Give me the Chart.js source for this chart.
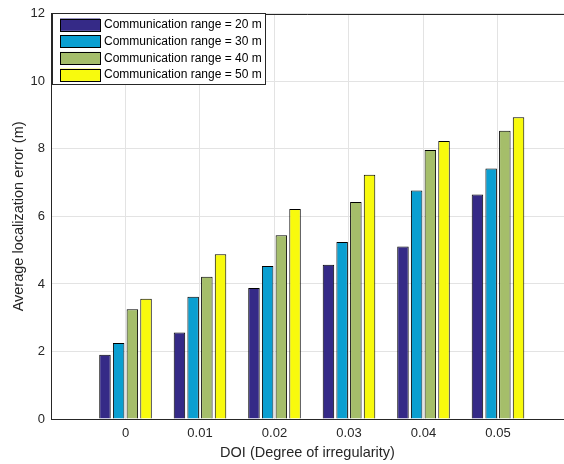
<!DOCTYPE html>
<html>
<head>
<meta charset="utf-8">
<script src="https://cdn.jsdelivr.net/npm/chart.js@4"></script>
<style>
html,body{margin:0;padding:0;background:#fff;}
#wrap{width:564px;height:464px;position:relative;}
</style>
</head>
<body>
<div id="wrap"><canvas id="c" width="564" height="464"></canvas></div>
<script>
const categories = ['0', '0.01', '0.02', '0.03', '0.04', '0.05'];
const seriesLabels = ['Communication range = 20 m', 'Communication range = 30 m', 'Communication range = 40 m', 'Communication range = 50 m'];
const range20 = [1.90, 2.56, 3.88, 4.57, 5.11, 6.65];
const range30 = [2.25, 3.62, 4.53, 5.24, 6.77, 7.42];
const range40 = [3.25, 4.21, 5.44, 6.43, 7.97, 8.54];
const range50 = [3.56, 4.88, 6.22, 7.23, 8.23, 8.94];
const yTicks = [0, 2, 4, 6, 8, 10, 12];
const colors = ['#352a87', '#0a9fd1', '#a5be6a', '#f8fa0d'];

const FONT = "'Liberation Sans', Arial, Helvetica, sans-serif";
const AX = '#262626';

const seriesValues = [range20, range30, range40, range50];
const datasets = seriesValues.map((vals, k) => ({
  label: seriesLabels[k],
  data: vals.map((v, i) => ({x: i, y: v})),
  backgroundColor: colors[k],
  borderColor: '#000',
  borderWidth: 1,
  borderSkipped: 'start',
  categoryPercentage: 0.735,
  barPercentage: 0.84
}));

const boxPlugin = {
  id: 'boxPlugin',
  afterDraw(chart) {
    const {ctx, chartArea: a} = chart;
    ctx.save();
    ctx.strokeStyle = AX;
    ctx.lineWidth = 1;
    ctx.beginPath();
    ctx.moveTo(Math.round(a.left) + 0.5, Math.round(a.top) + 0.5);
    ctx.lineTo(chart.width, Math.round(a.top) + 0.5);
    ctx.stroke();
    // legend box
    const lx = 52, ly = 13, lw = 213, lh = 71;
    ctx.fillStyle = '#fff';
    ctx.fillRect(lx, ly, lw, lh);
    ctx.strokeStyle = AX;
    ctx.strokeRect(lx + 0.5, ly + 0.5, lw, lh);
    ctx.font = '12px ' + FONT;
    ctx.textBaseline = 'middle';
    ctx.textAlign = 'left';
    chart.data.datasets.forEach((ds, k) => {
      const y = 18.5 + k * 16.7;
      ctx.fillStyle = ds.backgroundColor;
      ctx.fillRect(60, y, 40, 12.3);
      ctx.strokeStyle = '#000';
      ctx.strokeRect(60.5, Math.round(y) + 0.5, 40, 12);
      ctx.fillStyle = '#000';
      ctx.fillText(ds.label, 104, y + 6.5);
    });
    ctx.restore();
  }
};

new Chart(document.getElementById('c'), {
  type: 'bar',
  data: {datasets},
  options: {
    responsive: false,
    animation: false,
    devicePixelRatio: 1,
    layout: {padding: {left: 0, right: 0, top: 12, bottom: 0}},
    plugins: {legend: {display: false}, tooltip: {enabled: false}},
    scales: {
      x: {
        type: 'linear',
        min: -1,
        max: 5.886,
        offset: false,
        afterBuildTicks(scale) { scale.ticks = categories.map((c, i) => ({value: i})); },
        afterFit(scale) { scale.height = 45; },
        ticks: {
          autoSkip: false,
          maxRotation: 0,
          color: AX,
          font: {family: FONT, size: 13},
          padding: 7,
          callback: (v) => categories[v]
        },
        grid: {color: '#e3e3e3', offset: false, drawTicks: false},
        border: {color: AX, width: 1},
        title: {display: true, text: 'DOI (Degree of irregularity)', color: AX, font: {family: FONT, size: 14.5}, padding: {top: 2, bottom: 2}}
      },
      y: {
        min: 0,
        max: 12,
        afterBuildTicks(scale) { scale.ticks = yTicks.map(v => ({value: v})); },
        afterFit(scale) { scale.width = 51; },
        ticks: {color: AX, font: {family: FONT, size: 13}, padding: 6},
        grid: {color: '#e3e3e3', drawTicks: false},
        border: {color: AX, width: 1},
        title: {display: true, text: 'Average localization error (m)', color: AX, font: {family: FONT, size: 14.5}, padding: {top: 10, bottom: 0}}
      }
    }
  },
  plugins: [boxPlugin]
});
</script>
</body>
</html>
